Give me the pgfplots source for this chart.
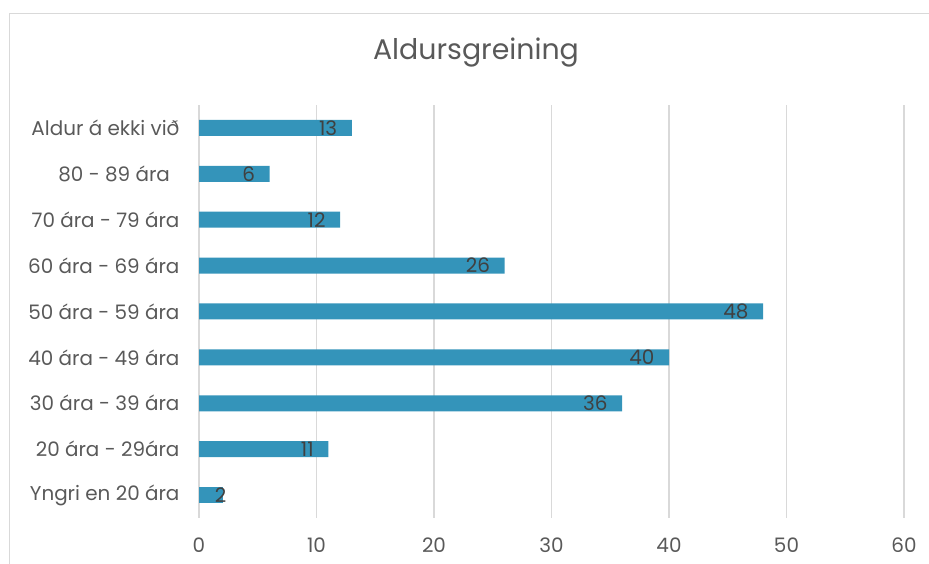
\documentclass[border=0pt]{standalone}
\usepackage{fontspec}
\setmainfont{Poppins}
\usepackage{pgfplots}
\usetikzlibrary{calc}
\pgfplotsset{compat=1.18}
\definecolor{barblue}{HTML}{3494BA}
\definecolor{gridgray}{HTML}{D9D9D9}
\definecolor{txtgray}{HTML}{595959}
\definecolor{lblgray}{HTML}{404040}
\begin{document}
\begin{tikzpicture}
\begin{axis}[
  name=ax,
  scale only axis, width=705bp, height=413bp,
  xbar, bar width=16bp,
  xmin=0, xmax=60, ymin=-0.5, ymax=8.5,
  xtick={0,10,...,60},
  ytick={0,...,8},
  yticklabels={Yngri en 20 ára,20 ára - 29ára,30 ára - 39 ára,40 ára - 49 ára,50 ára - 59 ára,60 ára - 69 ára,70 ára - 79 ára,80 - 89 ára\phantom{x},Aldur á ekki við},
  axis line style={draw=none},
  major tick length=0pt,
  xmajorgrids, major grid style={gridgray,line width=1.5bp},
  ticklabel style={text=txtgray,font=\fontsize{20}{24}\selectfont},
  xticklabel style={yshift=-16bp},
  yticklabel style={xshift=-16bp},
  /pgf/number format/assume math mode=true,
  clip=false,
]
\addplot[fill=barblue,draw=none,bar shift=0pt,
  nodes near coords, nodes near coords style={anchor=east,xshift=-11bp,text=lblgray,font=\fontsize{20}{24}\selectfont},
  /pgf/number format/assume math mode=true]
  coordinates {(11,1) (36,2) (40,3) (48,4) (26,5) (12,6) (6,7) (13,8)};
\addplot[fill=barblue,draw=none,bar shift=0pt,
  nodes near coords, nodes near coords style={anchor=center,xshift=-2bp,text=lblgray,font=\fontsize{20}{24}\selectfont},
  /pgf/number format/assume math mode=true]
  coordinates {(2,0)};
\end{axis}
\pgfresetboundingbox
\begin{scope}[shift={($(ax.south west)+(-199bp,-46bp)$)},x=1bp,y=1bp]
\useasboundingbox (0,0) rectangle (929,564);
\draw[gridgray,line width=1.5bp] (9.5,0) -- (9.5,550.5) -- (929,550.5);
\node[text=txtgray,font=\fontsize{28.5}{34}\selectfont] at (476,511) {Aldursgreining};
\end{scope}
\end{tikzpicture}
\end{document}
